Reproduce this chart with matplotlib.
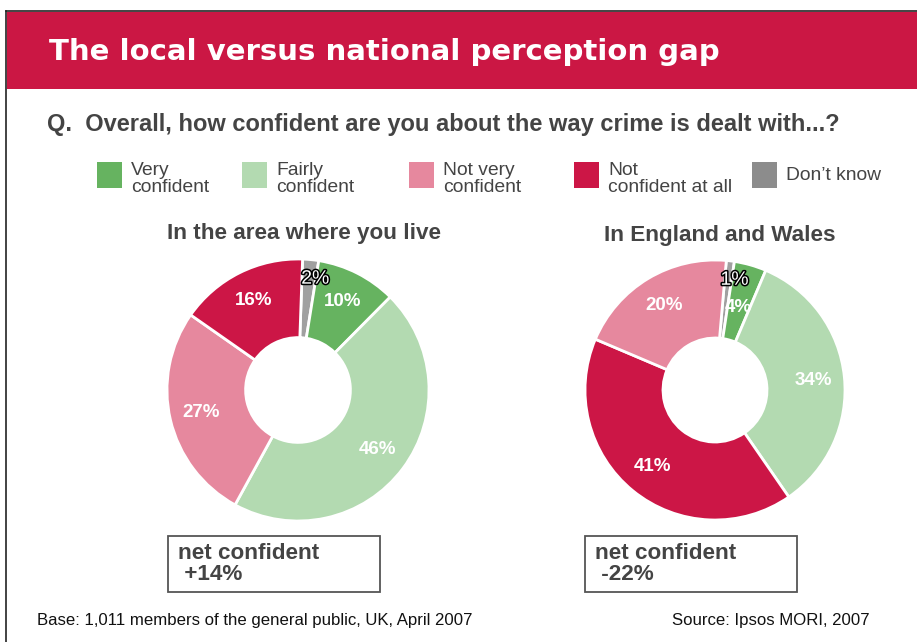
import numpy as np
import matplotlib
matplotlib.use('Agg')
from matplotlib import pyplot as plt
from matplotlib.patches import Rectangle
import matplotlib.patheffects as pe

plt.rcParams['font.family'] = ['Liberation Sans', 'DejaVu Sans']

# data
categories = ['Very\nconfident', 'Fairly\nconfident', 'Not very\nconfident',
              'Not\nconfident at all', 'Don\u2019t know']
colors = ['#66b360', '#b3dab1', '#e6889e', '#cc1646', '#a0a0a0']
legend_colors = ['#66b360', '#b3dab1', '#e6889e', '#cc1646', '#8c8c8c']
local_values = [10, 46, 27, 16, 2]
national_values = [4, 34, 20, 41, 1]
# clockwise order of slices from the top
local_order = [4, 0, 1, 2, 3]
national_order = [4, 0, 1, 3, 2]
net_local = '+14%'
net_national = '-22%'

W, H = 917, 642
RED = '#cb1744'
GREY = '#444444'

fig = plt.figure(figsize=(W / 100, H / 100), dpi=100)
bg = fig.add_axes([0, 0, 1, 1])
bg.set_xlim(0, W)
bg.set_ylim(H, 0)
bg.axis('off')

# frame + header band
bg.plot([6, 6], [11, H], color='#222222', lw=1.2)
bg.plot([6, W], [11, 11], color='#222222', lw=1.2)
bg.add_patch(Rectangle((6.5, 11.5), W, 77, color=RED, lw=0))
bg.text(49, 52, 'The local versus national perception gap', color='white',
        fontsize=21, fontweight='bold', family='DejaVu Sans', va='center')
bg.text(47, 124, 'Q.  Overall, how confident are you about the way crime is dealt with...?',
        color=GREY, fontsize=17, fontweight='bold', va='center')

# legend
leg_x = [97, 242, 409, 574, 752]
for i, lab in enumerate(categories):
    bg.add_patch(Rectangle((leg_x[i], 162), 25, 26, color=legend_colors[i], lw=0))
    bg.text(leg_x[i] + 34, 179 if '\n' in lab else 175, lab, color=GREY, fontsize=13.9,
            va='center', linespacing=0.98)


def donut(cx, cy, r, values, order, title, net, start, tx, ty):
    ax = fig.add_axes([(cx - r) / W, (H - cy - r) / H, 2 * r / W, 2 * r / H])
    vals = [values[i] for i in order]
    cols = [colors[i] for i in order]
    wedges, _ = ax.pie(vals, colors=cols, startangle=start, counterclock=False,
                       wedgeprops=dict(width=0.6, edgecolor='white', linewidth=2))
    ax.set_xlim(-1, 1)
    ax.set_ylim(-1, 1)
    ax.set_aspect('equal')
    ax.axis('off')
    for w, v in zip(wedges, vals):
        ang = np.deg2rad((w.theta1 + w.theta2) / 2)
        if v <= 2:
            ax.text(0.85 * np.cos(ang) + 0.05, 0.85 * np.sin(ang), '%d%%' % v,
                    ha='center', va='center', color='white', fontsize=14,
                    path_effects=[pe.withStroke(linewidth=2.2, foreground='black')])
        else:
            rr = 0.66 if v < 6 else 0.76
            ax.text(rr * np.cos(ang), rr * np.sin(ang), '%d%%' % v,
                    ha='center', va='center', color='white', fontsize=13.5,
                    fontweight='bold')
    bg.text(tx, ty, title, ha='center', va='center', color=GREY,
            fontsize=16.2, fontweight='bold')
    bx = cx - 130
    bg.add_patch(Rectangle((bx, 536), 212, 56, fill=False, edgecolor='#555555', lw=1.3))
    bg.text(bx + 10, 564, 'net confident\n %s' % net, color=GREY, fontsize=16.2,
            fontweight='bold', va='center', linespacing=0.95)


donut(298, 390, 131, local_values, local_order, 'In the area where you live', net_local,
      88, 304, 233)
donut(715, 390, 130, national_values, national_order, 'In England and Wales', net_national,
      85, 720, 236)

bg.text(37, 620, 'Base: 1,011 members of the general public, UK, April 2007',
        color='#111111', fontsize=12.1, va='center')
bg.text(870, 620, 'Source: Ipsos MORI, 2007', color='#111111', fontsize=12.1,
        va='center', ha='right')

fig.savefig('out.png', dpi=100)
